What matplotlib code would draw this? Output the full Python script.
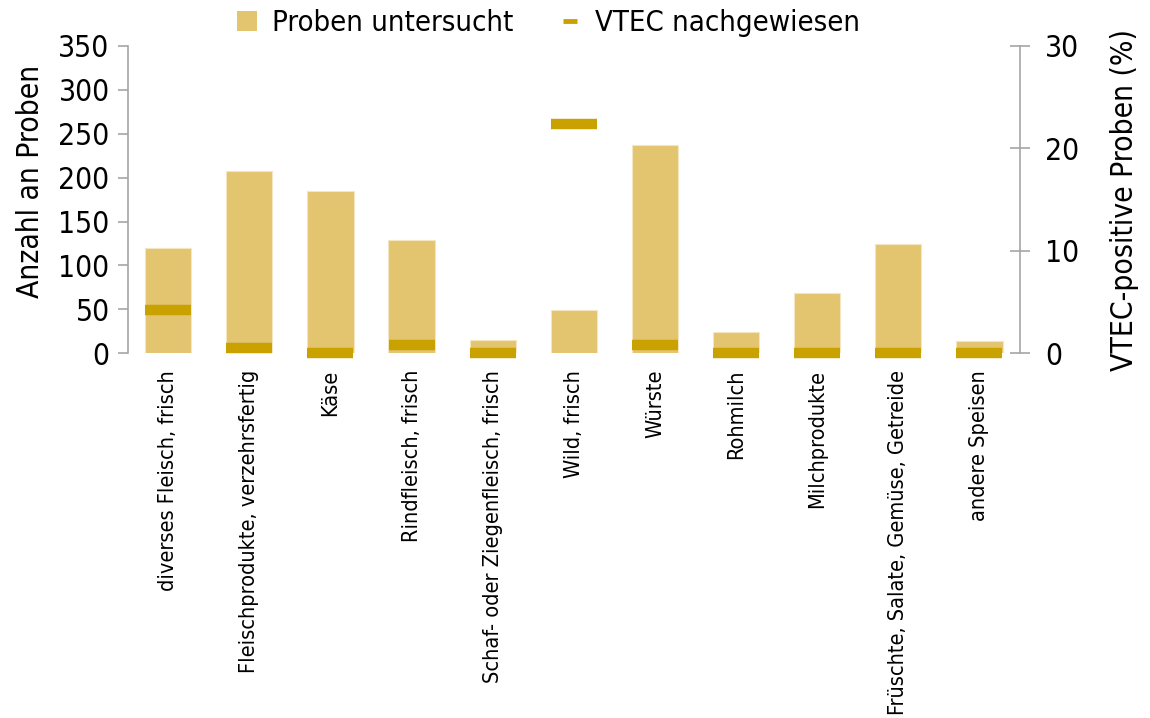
import matplotlib
matplotlib.use("Agg")
import matplotlib.pyplot as plt
import numpy as np
from matplotlib.lines import Line2D
from matplotlib.patches import Patch
from matplotlib import font_manager

categories = [
    "diverses Fleisch, frisch",
    "Fleischprodukte, verzehrsfertig",
    "Käse",
    "Rindfleisch, frisch",
    "Schaf- oder Ziegenfleisch, frisch",
    "Wild, frisch",
    "Würste",
    "Rohmilch",
    "Milchprodukte",
    "Früschte, Salate, Gemüse, Getreide",
    "andere Speisen",
]
samples_tested = [120, 208, 185, 129, 15, 49, 237, 24, 69, 124, 14]
vtec_positive_pct = [4.2, 0.5, 0.0, 0.8, 0.0, 22.4, 0.85, 0.0, 0.0, 0.0, 0.0]
left_ticks = [0, 50, 100, 150, 200, 250, 300, 350]
right_ticks = [0, 10, 20, 30]

bar_color = "#E3C46F"
marker_color = "#C9A200"
spine_color = "#A6A6A6"

# use the condensed DejaVu face if it is there (closest to Tahoma)
condensed = [f for f in font_manager.fontManager.ttflist
             if f.name == "DejaVu Sans" and "ondensed" in f.fname]
if condensed:
    plt.rcParams["font.family"] = ["DejaVu Sans"]
    plt.rcParams["font.stretch"] = "condensed"
else:
    plt.rcParams["font.family"] = ["Liberation Sans", "DejaVu Sans"]

fig = plt.figure(figsize=(11.5, 7.18), dpi=100)
ax = fig.add_axes([0.111, 0.508, 0.776, 0.428])
ax2 = ax.twinx()

x = np.arange(len(categories))
bar_w = 0.57

# Bars: number of samples
ax.bar(x, samples_tested, width=bar_w, color=bar_color,
       edgecolor="#F3E6C0", linewidth=0.8, zorder=2)

# Markers: share of VTEC-positive samples
ax2.plot(x, vtec_positive_pct, linestyle="none", marker="_",
         markersize=33, markeredgewidth=7.5, color=marker_color,
         clip_on=False, zorder=3)

ax.set_xlim(-0.5, len(categories) - 0.5)
ax.set_ylim(0, 350)
ax2.set_ylim(0, 30)
ax.set_yticks(left_ticks)
ax2.set_yticks(right_ticks)

ax.set_xticks(x)
ax.set_xticklabels(categories, rotation=90, fontsize=15.6, va="top")
ax.tick_params(axis="x", length=0, pad=12)
ax.tick_params(axis="y", labelsize=21.5, length=7, width=1.2,
               color=spine_color, pad=6)
ax2.tick_params(axis="y", labelsize=21.5, length=14, width=1.2,
                color=spine_color, direction="inout", pad=11)

for a in (ax, ax2):
    a.spines["top"].set_visible(False)
    a.spines["bottom"].set_visible(False)
ax2.spines["left"].set_visible(False)
ax.spines["right"].set_visible(False)
ax.spines["left"].set_color(spine_color)
ax2.spines["right"].set_color(spine_color)
ax.spines["left"].set_linewidth(1.2)
ax2.spines["right"].set_linewidth(1.2)

ax.set_ylabel("Anzahl an Proben", fontsize=21.5)
ax.yaxis.set_label_coords(-0.093, 0.56)
ax2.set_ylabel("VTEC-positive Proben (%)", fontsize=21.5, labelpad=22)

handles = [
    Patch(facecolor=bar_color, edgecolor="none"),
    Line2D([], [], linestyle="none", marker="_", markersize=10,
           markeredgewidth=3.5, color=marker_color),
]
fig.legend(handles, ["Proben untersucht", "VTEC nachgewiesen"],
           loc="center", bbox_to_anchor=(0.477, 0.968), ncol=2,
           frameon=False, fontsize=21, handlelength=0.7, handleheight=0.7,
           handletextpad=0.5, columnspacing=1.6, numpoints=1)

fig.savefig("out.png", dpi=100)
